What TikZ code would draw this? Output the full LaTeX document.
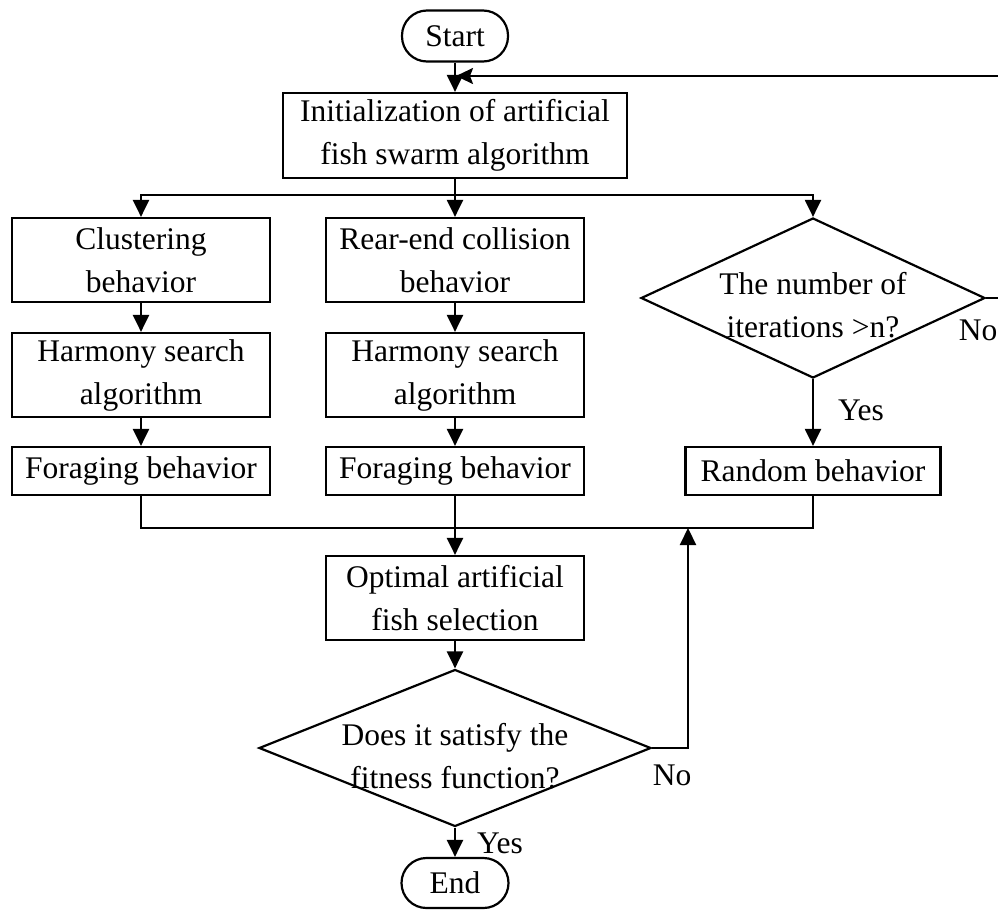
\documentclass[tikz,border=0pt]{standalone}
\usepackage{fontspec}
\setmainfont{Liberation Serif}
\usetikzlibrary{shapes.geometric,arrows.meta}
\begin{document}
\begin{tikzpicture}[x=1pt,y=-1pt,
  every node/.style={font=\fontsize{31.5}{43}\selectfont},
  box/.style={draw,line width=2.2pt,rectangle,align=center,inner sep=0pt,minimum width=258pt,minimum height=84pt},
  lowbox/.style={box,minimum height=48pt},
  term/.style={draw,line width=2.2pt,rectangle,rounded corners=25pt,inner sep=0pt,minimum width=106pt,minimum height=51pt},
  dia/.style={draw,line width=2.2pt,diamond,inner sep=0pt},
  plain/.style={align=center,inner sep=0pt},
  conn/.style={line width=2.2pt},
  arr/.style={line width=2.2pt,-{Triangle[length=17pt,width=16pt]}},
  larr/.style={line width=2.2pt,-{Stealth[length=17pt,width=16pt,inset=3pt]}}
]
\useasboundingbox (0,0) rectangle (998,910);

% nodes
\node[term] (start) at (455,36) {Start};
\node[box,minimum width=344pt,minimum height=85pt] (init) at (455,135.5) {Initialization of artificial\\fish swarm algorithm};

\node[box] (clu) at (141,260) {Clustering\\behavior};
\node[box] (hs1) at (141,375) {Harmony search\\algorithm};
\node[lowbox] (fo1) at (141,471) {Foraging behavior};

\node[box] (rear) at (455,260) {Rear-end collision\\behavior};
\node[box] (hs2) at (455,375) {Harmony search\\algorithm};
\node[lowbox] (fo2) at (455,471) {Foraging behavior};

\node[dia,minimum width=344pt,minimum height=160pt] (d1) at (813,298) {};
\node[plain] (d1t) at (813,305) {The number of\\iterations >n?};
\node[lowbox,minimum width=255pt] (rnd) at (813,471) {Random behavior};

\node[box] (opt) at (455,598) {Optimal artificial\\fish selection};
\node[dia,minimum width=392pt,minimum height=157pt] (d2) at (455,748) {};
\node[plain] (d2t) at (455,756) {Does it satisfy the\\fitness function?};
\node[term,minimum width=107pt,minimum height=50pt] (end) at (455,883) {End};

% labels
\node[plain] (no1) at (978,330) {No};
\node[plain] (yes1) at (861,410) {Yes};
\node[plain] (no2) at (672,775) {No};
\node[plain] (yes2) at (500,843) {Yes};

% helper coordinates
\coordinate (join) at (456,76);
\coordinate (fbr) at (1012,298);
\coordinate (fbt) at (1012,76);
\coordinate (split) at (455,195);
\coordinate (m1) at (141,528);
\coordinate (m2) at (813,528);
\coordinate (up) at (688,528);

% connectors
\draw[arr] (start.south) -- (init.north);
\draw[larr] (d1.east) -- (fbr) -- (fbt) -- (join);
\draw[conn] (init.south) -- (split);
\draw[arr] (split) -| (clu.north);
\draw[arr] (split) -| (d1.north);
\draw[arr] (split) -- (rear.north);
\draw[arr] (clu.south) -- (hs1.north);
\draw[arr] (hs1.south) -- (fo1.north);
\draw[arr] (rear.south) -- (hs2.north);
\draw[arr] (hs2.south) -- (fo2.north);
\draw[arr] (d1.south) -- (rnd.north);
\draw[conn] (fo1.south) -- (m1) -- (m2) -- (rnd.south);
\draw[arr] (fo2.south) -- (opt.north);
\draw[arr] (opt.south) -- (d2.north);
\draw[arr] (d2.east) -| (up);
\draw[arr] (d2.south) -- (end.north);
\end{tikzpicture}
\end{document}
